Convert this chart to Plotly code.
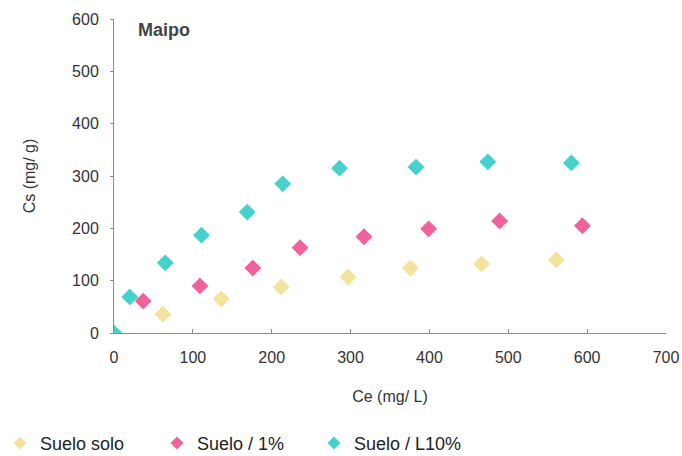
import plotly.graph_objects as go

# Isotherm data (Ce in mg/L, Cs in mg/g)
solo_ce = [62, 136, 212, 297, 376, 466, 561]
solo_cs = [36, 65, 88, 107, 124, 132, 140]

s1_ce = [37, 109, 176, 236, 317, 399, 489, 594]
s1_cs = [61, 90, 124, 163, 184, 199, 214, 205]

l10_ce = [0, 20, 65, 111, 169, 214, 286, 383, 474, 580]
l10_cs = [0, 69, 134, 187, 231, 285, 315, 317, 327, 325]

x_ticks = [0, 100, 200, 300, 400, 500, 600, 700]
y_ticks = [0, 100, 200, 300, 400, 500, 600]

series = [
    ("Suelo solo", solo_ce, solo_cs, "#f3e39c"),
    ("Suelo / 1%", s1_ce, s1_cs, "#f0629b"),
    ("Suelo / L10%", l10_ce, l10_cs, "#45d2cc"),
]

fig = go.Figure()
for name, xs, ys, col in series:
    fig.add_trace(go.Scatter(
        x=xs, y=ys, mode="markers", name=name, showlegend=False,
        legendgroup=name,
        marker=dict(symbol="diamond", size=13, color=col, line=dict(width=0)),
    ))
# legend entries with smaller symbols
for name, xs, ys, col in series:
    fig.add_trace(go.Scatter(
        x=[None], y=[None], mode="markers", name=name, legendgroup=name,
        marker=dict(symbol="diamond", size=10, color=col, line=dict(width=0)),
    ))

font = "Liberation Sans, Arial, sans-serif"
fig.update_layout(
    width=682, height=456,
    margin=dict(l=114, r=16, t=19, b=123, autoexpand=False),
    plot_bgcolor="white", paper_bgcolor="white",
    font=dict(family=font, size=16, color="#333333"),
    xaxis=dict(
        range=[0, 700], tickvals=x_ticks, showgrid=False, zeroline=False,
        showline=True, linecolor="#8a8a8a", linewidth=1,
        ticks="inside", ticklen=4, tickcolor="#8a8a8a",
        ticklabelstandoff=10,
        title=dict(text="Ce (mg/ L)", standoff=25, font=dict(size=16)),
    ),
    yaxis=dict(
        range=[0, 600], tickvals=y_ticks, showgrid=False, zeroline=False,
        showline=True, linecolor="#8a8a8a", linewidth=1,
        ticks="outside", ticklen=3, tickcolor="#8a8a8a",
        ticklabelstandoff=8,
        title=dict(text="Cs (mg/ g)", standoff=32, font=dict(size=16)),
    ),
    legend=dict(
        orientation="h", xref="container", yref="container",
        x=-0.005, y=0.028, yanchor="middle", xanchor="left",
        font=dict(size=18, color="#222222"),
        itemwidth=30, entrywidth=112, entrywidthmode="pixels",
        traceorder="normal",
    ),
    annotations=[dict(
        x=0.04, y=0.965, xref="paper", yref="paper", xanchor="left",
        yanchor="middle", showarrow=False, text="<b>Maipo</b>",
        font=dict(size=18, color="#444444"),
    )],
)

fig.write_html("out.html")
